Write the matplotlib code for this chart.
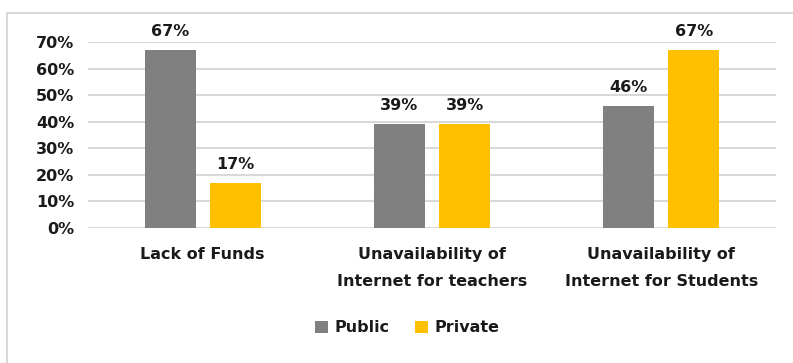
import numpy as np
import matplotlib.pyplot as plt
from matplotlib.patches import Rectangle

categories = ['Lack of Funds', 'Unavailability of\nInternet for teachers',
              'Unavailability of\nInternet for Students']
public = [0.67, 0.39, 0.46]
private = [0.17, 0.39, 0.67]
yticks = [0, 0.1, 0.2, 0.3, 0.4, 0.5, 0.6, 0.7]

plt.rcParams['font.family'] = ['DejaVu Sans']
plt.rcParams['font.weight'] = 'bold'
plt.rcParams['text.color'] = '#1a1a1a'

fig = plt.figure(figsize=(7.93, 3.63), dpi=100)
ax = fig.add_axes([88 / 793, 1 - 228 / 363, 688 / 793, 186 / 363])

x = np.arange(len(categories))
w = 0.222
off = 0.142
b1 = ax.bar(x - off, public, w, color='#808080', label='Public', zorder=3)
b2 = ax.bar(x + off, private, w, color='#FFC000', label='Private', zorder=3)

for bars in (b1, b2):
    for r in bars:
        ax.annotate(f'{r.get_height():.0%}', (r.get_x() + r.get_width() / 2, r.get_height()),
                    xytext=(0, 8), textcoords='offset points', ha='center', va='bottom',
                    fontsize=11.5, fontweight='bold', color='#1a1a1a')

ax.set_xlim(-0.5, 2.5)
ax.set_ylim(0, 0.7)
ax.set_yticks(yticks)
ax.set_yticklabels([f'{v:.0%}' for v in yticks], fontsize=11.5, fontweight='bold', color='#1a1a1a')
ax.set_xticks(x)
ax.set_xticklabels(categories, fontsize=11.5, fontweight='bold', linespacing=2.0, color='#1a1a1a')
ax.tick_params(length=0, pad=10)
ax.tick_params(axis='x', pad=14)
ax.grid(axis='y', color='#D9D9D9', linewidth=1.5, zorder=0)
for s in ax.spines.values():
    s.set_visible(False)

ax.legend(loc='center', bbox_to_anchor=(407 / 793, 1 - 328 / 363), bbox_transform=fig.transFigure,
          ncol=2, frameon=False, fontsize=11.5, handlelength=0.8, handleheight=0.8,
          handletextpad=0.4, columnspacing=1.6)

fig.patches.append(Rectangle((7 / 793, -0.1), 1.2, 1 - 13 / 363 + 0.1, transform=fig.transFigure,
                             fill=False, edgecolor='#D9D9D9', linewidth=1.5))

fig.savefig('out.png', dpi=100)
